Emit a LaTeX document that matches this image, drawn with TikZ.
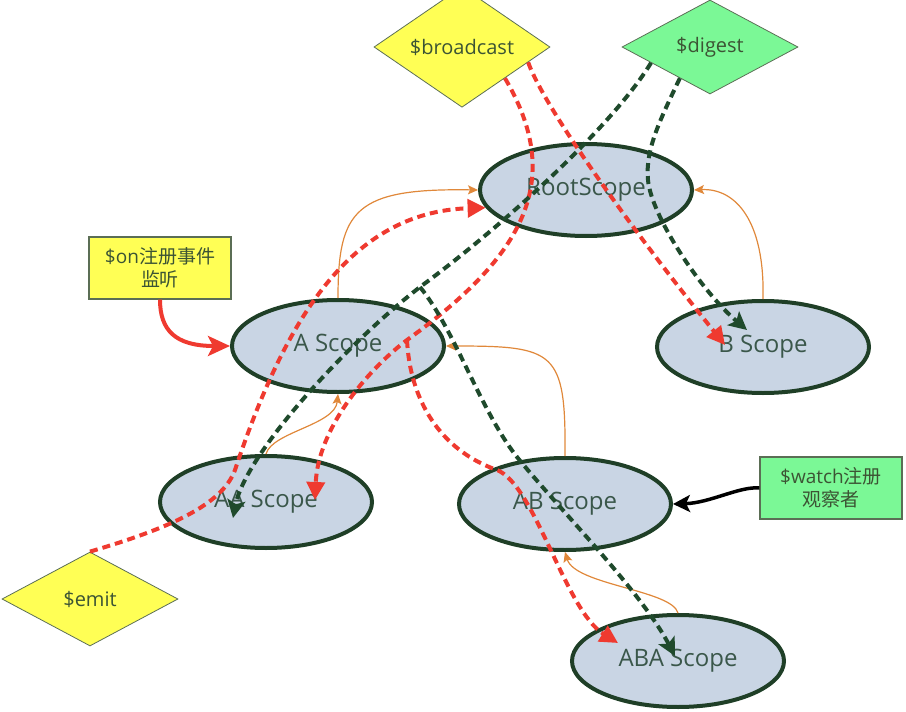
\documentclass[tikz,border=0pt]{standalone}
\usepackage{fontspec}
\setmainfont{Open Sans}
\newfontfamily\cjk{Noto Sans CJK SC}
\usetikzlibrary{shapes.geometric,arrows.meta}

\definecolor{scopefill}{HTML}{C9D5E4}
\definecolor{scopeline}{HTML}{1F3F27}
\definecolor{scopetext}{HTML}{3A574A}
\definecolor{evyellow}{HTML}{FFFF55}
\definecolor{evgreen}{HTML}{7BF896}
\definecolor{evline}{HTML}{5B6E55}
\definecolor{evtext}{HTML}{3C5434}
\definecolor{bcred}{HTML}{EF3A30}
\definecolor{dgreen}{HTML}{1F4A2C}
\definecolor{parentor}{HTML}{E0883A}

\begin{document}
\begin{tikzpicture}[x=1pt,y=-1pt,
  scopenode/.style={ellipse, draw=scopeline, line width=4pt, fill=scopefill,
    minimum width=212pt, minimum height=92pt, inner sep=0pt, text=scopetext,
    font=\fontsize{24}{28}\selectfont},
  eventnode/.style={diamond, draw=evline, line width=0.8pt, minimum width=176pt,
    minimum height=94pt, inner sep=0pt, text=evtext, font=\fontsize{20}{24}\selectfont},
  notebox/.style={rectangle, draw=evline, line width=1.2pt, minimum width=142pt,
    minimum height=62pt, inner sep=2pt, align=center, text=evtext,
    font=\fontsize{19}{23}\selectfont},
  parentlink/.style={draw=parentor, line width=1.2pt, -{Stealth[length=10pt,width=9pt,inset=2pt]}},
  bcastlink/.style={draw=bcred, line width=4pt, dash pattern=on 8pt off 5pt,
    -{Triangle[length=18pt,width=18pt]}},
  digestlink/.style={draw=dgreen, line width=4pt, dash pattern=on 8pt off 5pt,
    -{Stealth[length=18pt,width=18pt,inset=4pt]}},
  onlink/.style={draw=bcred, line width=4pt, -{Stealth[length=22pt,width=20pt,inset=5pt]}},
  watchlink/.style={draw=black, line width=3.5pt, -{Stealth[length=17pt,width=17pt,inset=4pt]}},
]
\useasboundingbox (0,0) rectangle (906,712);

% scopes
\node[scopenode] (root) at (586,190) {RootScope};
\node[scopenode] (A)    at (338,346) {A Scope};
\node[scopenode] (B)    at (763,347) {B Scope};
\node[scopenode] (AA)   at (266,502) {AA Scope};
\node[scopenode] (AB)   at (565,504) {AB Scope};
\node[scopenode] (ABA)  at (678,661) {ABA Scope};

% events
\node[eventnode, fill=evyellow] (bc)   at (462,47)  {\$broadcast};
\node[eventnode, fill=evgreen]  (dg)   at (710,47)  {\$digest};
\node[eventnode, fill=evyellow] (emit) at (90,599)  {\$emit};

% notes
\node[notebox, fill=evyellow] (on)    at (160,268) {\$on{\cjk 注册事件}\\{\cjk 监听}};
\node[notebox, fill=evgreen]  (watch) at (831,488) {\$watch{\cjk 注册}\\{\cjk 观察者}};

% arrow tips that end inside the scopes
\coordinate (tipBr)   at ([shift={(-38,-2)}]B.center);
\coordinate (tipBg)   at ([shift={(-16,-17)}]B.center);
\coordinate (tipAAr)  at ([shift={(49,-2)}]AA.center);
\coordinate (tipAAg)  at ([shift={(-33,16)}]AA.center);
\coordinate (tipABAr) at ([shift={(-60,-18)}]ABA.center);
\coordinate (tipABAg) at ([shift={(-3,-5)}]ABA.center);
% branch points
\coordinate (bsplit) at (407,340);
\coordinate (dsplit) at (420,287);
\coordinate (dbend)  at (648,180);

% parent links
\draw[parentlink] (A.north) .. controls (338,210) and (355,188) .. (root.west);
\draw[parentlink] (B.north) .. controls (765,220) and (735,188) .. (root.east);
\draw[parentlink] (AA.north) .. controls (272,432) and (335,425) .. (A.south);
\draw[parentlink] (AB.north) .. controls (566,350) and (555,346) .. (A.east);
\draw[parentlink] (ABA.north) .. controls (672,590) and (575,585) .. (AB.south);

% $broadcast
\draw[bcastlink] (bc.-13) .. controls (545,110) and (640,240) .. (tipBr);
\draw[bcastlink] (bc.-36) .. controls (565,180) and (525,255) .. (bsplit)
  .. controls (365,372) and (318,430) .. (tipAAr);
\draw[bcastlink] (bsplit) .. controls (410,400) and (440,450) .. (497,470)
  .. controls (535,485) and (565,610) .. (tipABAr);

% $emit
\draw[bcastlink] (emit.north) .. controls (170,528) and (222,505) .. (235,470)
  .. controls (285,320) and (350,212) .. (root.190);

% $digest
\draw[digestlink] (dg.195) .. controls (610,130) and (495,232) .. (dsplit)
  .. controls (345,345) and (245,455) .. (tipAAg);
\draw[digestlink] (dsplit) .. controls (455,330) and (480,410) .. (517,457)
  .. controls (560,510) and (640,590) .. (tipABAg);
\draw[digestlink] (dg.226) .. controls (660,120) and (645,150) .. (dbend)
  .. controls (651,215) and (700,290) .. (tipBg);

% registration
\draw[onlink] (on.south) .. controls (160,330) and (175,346) .. (A.west);
\draw[watchlink] (watch.west) .. controls (740,486) and (710,503) .. (AB.east);
\end{tikzpicture}
\end{document}
